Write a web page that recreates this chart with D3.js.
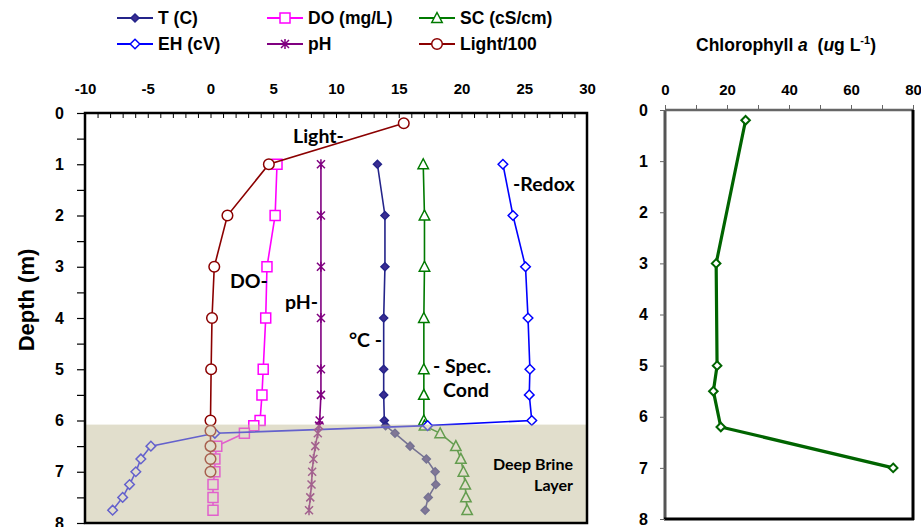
<!DOCTYPE html>
<html><head><meta charset="utf-8">
<script src="https://cdn.jsdelivr.net/npm/d3@7"></script>
<style>
body{margin:0;background:#fff;}
svg{display:block;}
.ax text{font-family:"Liberation Sans",Arial,sans-serif;font-weight:bold;fill:#000;}
.lg{font-family:"Liberation Sans",Arial,sans-serif;font-weight:bold;fill:#000;}
.note{font-family:Lato,"Open Sans",sans-serif;font-weight:700;fill:#000;}
</style></head><body>
<svg id="c" width="921" height="527"></svg>
<script>
// Water column profile, depths in metres
const profileDepth = [1, 2, 3, 4, 5, 5.5, 6, 6.1, 6.25, 6.5, 6.75, 7, 7.25, 7.5, 7.75];
const tempC    = [13.3, 13.9, 13.9, 13.8, 13.8, 13.8, 13.85, 13.95, 14.7, 15.9, 17.2, 17.9, 17.95, 17.35, 17.1];
const doMgL    = [5.3, 5.15, 4.5, 4.4, 4.2, 4.1, 3.95, 3.45, 2.7, 0.5, 0.35, 0.35, 0.2, 0.2, 0.2];
const specCond = [16.95, 17.05, 17.05, 17.0, 17.0, 17.0, 17.0, 17.05, 18.3, 19.55, 19.95, 20.15, 20.3, 20.35, 20.45];
const ehCv     = [23.3, 24.1, 25.1, 25.3, 25.45, 25.4, 25.6, 17.3, 0.35, -4.75, -5.55, -5.95, -6.45, -7.0, -7.8];
const pHval    = [8.8, 8.8, 8.8, 8.8, 8.8, 8.8, 8.7, 8.65, 8.55, 8.35, 8.2, 8.1, 8.05, 7.95, 7.85];
const lightDepth = [0.2, 1, 2, 3, 4, 5, 6, 6.2, 6.5, 6.75, 7];
const light100   = [15.4, 4.65, 1.35, 0.3, 0.12, 0.05, 0, 0, 0, 0, 0];
// Chlorophyll a profile
const chlDepth = [0.2, 3, 5, 5.5, 6.2, 7];
const chlA     = [26, 16.5, 16.8, 15.6, 18, 73.6];
// Axis ticks
const profileTicks = [-10, -5, 0, 5, 10, 15, 20, 25, 30];
const depthTicks = [0, 1, 2, 3, 4, 5, 6, 7, 8];
const chlTicks = [0, 20, 40, 60, 80];
const brineTop = 6.08;

const svg = d3.select("#c");

const x = d3.scaleLinear().domain([-10, 30]).range([85, 587]);
const y = d3.scaleLinear().domain([0, 8]).range([113, 523]);
const xc = d3.scaleLinear().domain([0, 80]).range([665, 913]);
const yc = d3.scaleLinear().domain([0, 8]).range([110, 519]);

// marker shapes centred at 0,0
const shapes = {
  diamond: r => `M0,${-r}L${r},0L0,${r}L${-r},0Z`,
  square: r => `M${-r},${-r}H${r}V${r}H${-r}Z`,
  triangle: r => `M0,${-r}L${r*0.95},${r*0.8}L${-r*0.95},${r*0.8}Z`,
  circle: r => `M${r},0A${r},${r} 0 1,1 ${-r},0A${r},${r} 0 1,1 ${r},0Z`,
  asterisk: r => `M0,${-r}V${r}M${-r*0.8},${-r*0.8}L${r*0.8},${r*0.8}M${r*0.8},${-r*0.8}L${-r*0.8},${r*0.8}`
};

const series = [
  {name: "T (C)", depth: profileDepth, vals: tempC, line: "#24248a", stroke: "#24248a", fill: "#3b2d92", shape: "diamond", r: 4},
  {name: "DO (mg/L)", depth: profileDepth, vals: doMgL, line: "#ff00ff", stroke: "#ff00ff", fill: "#fff", shape: "square", r: 5},
  {name: "SC (cS/cm)", depth: profileDepth, vals: specCond, line: "#007a00", stroke: "#007a00", fill: "#fff", shape: "triangle", r: 5.5},
  {name: "EH (cV)", depth: profileDepth, vals: ehCv, line: "#0000ff", stroke: "#0000ff", fill: "#fff", shape: "diamond", r: 4.8},
  {name: "pH", depth: profileDepth, vals: pHval, line: "#800080", stroke: "#800080", fill: "none", shape: "asterisk", r: 5},
  {name: "Light/100", depth: lightDepth, vals: light100, line: "#8b0000", stroke: "#8b0000", fill: "#fff", shape: "circle", r: 5.3}
];

// ---- left panel: profiles ----
svg.append("rect").attr("x", 85).attr("y", 113).attr("width", 502).attr("height", 410).attr("fill", "#fff");

const plot = svg.append("g");
series.forEach(s => {
  const pts = s.depth.map((d, i) => [s.vals[i], d]);
  plot.append("path")
    .attr("d", d3.line().x(p => x(p[0])).y(p => y(p[1]))(pts))
    .attr("fill", "none").attr("stroke", s.line).attr("stroke-width", 1.6);
  plot.selectAll(null).data(pts).join("path")
    .attr("transform", p => `translate(${x(p[0])},${y(p[1])})`)
    .attr("d", shapes[s.shape](s.r))
    .attr("fill", s.fill).attr("stroke", s.stroke).attr("stroke-width", 1.5);
});

// deep brine layer shading
svg.append("rect")
  .attr("x", 85).attr("y", y(brineTop))
  .attr("width", 502).attr("height", y(8) - y(brineTop))
  .attr("fill", "rgb(196,190,155)").attr("fill-opacity", 0.51);

svg.append("text").attr("class", "note").attr("x", 573).attr("y", 470)
  .attr("text-anchor", "end").style("font-size", "16px").text("Deep Brine");
svg.append("text").attr("class", "note").attr("x", 573).attr("y", 491)
  .attr("text-anchor", "end").style("font-size", "16px").text("Layer");

// in-plot labels
const notes = [
  {t: "Light-", x: 293, y: 143},
  {t: "-Redox", x: 513, y: 191},
  {t: "DO-", x: 230, y: 288},
  {t: "pH-", x: 285, y: 309},
  {t: "°C -", x: 349, y: 347},
  {t: "- Spec.", x: 433, y: 373},
  {t: "Cond", x: 443, y: 397}
];
notes.forEach(n => svg.append("text").attr("class", "note").attr("x", n.x).attr("y", n.y)
  .style("font-size", "19.5px").text(n.t));

// frame
svg.append("rect").attr("x", 85).attr("y", 113).attr("width", 502).attr("height", 410)
  .attr("fill", "none").attr("stroke", "#000").attr("stroke-width", 2.5);

// top axis (inward ticks every unit)
const topAx = svg.append("g").attr("class", "ax").attr("transform", "translate(0,113)")
  .call(d3.axisTop(x).tickValues(d3.range(-10, 31, 1)).tickSize(-5).tickPadding(19)
    .tickFormat(d => profileTicks.includes(d) ? d : ""));
topAx.select(".domain").remove();
topAx.selectAll("line").attr("stroke", "#000");
topAx.selectAll("text").style("font-size", "15px");

// depth axis
const leftAx = svg.append("g").attr("class", "ax").attr("transform", "translate(85,0)")
  .call(d3.axisLeft(y).tickValues(d3.range(0, 8.01, 0.5)).tickSize(8).tickPadding(13)
    .tickFormat(d => depthTicks.includes(d) ? d : ""));
leftAx.select(".domain").remove();
leftAx.selectAll("line").attr("stroke", "#000").attr("stroke-width", 1.2);
leftAx.selectAll("text").style("font-size", "16px");

svg.append("text").attr("class", "lg")
  .attr("transform", "translate(34,300) rotate(-90)")
  .attr("text-anchor", "middle").style("font-size", "22px").text("Depth (m)");

// legend
const legCols = [117, 267, 419];
series.forEach((s, i) => {
  const col = i % 3, row = Math.floor(i / 3);
  const lx = legCols[col], ly = row === 0 ? 18 : 44;
  const g = svg.append("g");
  g.append("line").attr("x1", lx).attr("x2", lx + 36).attr("y1", ly).attr("y2", ly)
    .attr("stroke", s.line).attr("stroke-width", 2);
  g.append("path").attr("transform", `translate(${lx + 18},${ly})`)
    .attr("d", shapes[s.shape](s.r)).attr("fill", s.fill).attr("stroke", s.stroke).attr("stroke-width", 1.5);
  g.append("text").attr("class", "lg").attr("x", lx + 41).attr("y", ly + 6)
    .style("font-size", "17.5px").text(s.name);
});

// ---- right panel: chlorophyll a ----
svg.append("path")
  .attr("d", d3.line().x((d, i) => xc(chlA[i])).y(d => yc(d))(chlDepth))
  .attr("fill", "none").attr("stroke", "#006400").attr("stroke-width", 3.2);
svg.selectAll(null).data(chlDepth).join("path")
  .attr("transform", (d, i) => `translate(${xc(chlA[i])},${yc(d)})`)
  .attr("d", shapes.diamond(4.3))
  .attr("fill", "#fff").attr("stroke", "#006400").attr("stroke-width", 2);

// frame: grey left/top, black right/bottom
svg.append("line").attr("x1", 665).attr("x2", 665).attr("y1", 110).attr("y2", 519).attr("stroke", "#555").attr("stroke-width", 3);
svg.append("line").attr("x1", 665).attr("x2", 913).attr("y1", 110).attr("y2", 110).attr("stroke", "#666").attr("stroke-width", 2.5);
svg.append("line").attr("x1", 913).attr("x2", 913).attr("y1", 110).attr("y2", 520).attr("stroke", "#000").attr("stroke-width", 3);
svg.append("line").attr("x1", 664).attr("x2", 914).attr("y1", 519).attr("y2", 519).attr("stroke", "#000").attr("stroke-width", 3);

const cTop = svg.append("g").attr("class", "ax").attr("transform", "translate(0,110)")
  .call(d3.axisTop(xc).tickValues(d3.range(0, 81, 10)).tickSize(5).tickPadding(10)
    .tickFormat(d => chlTicks.includes(d) ? d : ""));
cTop.select(".domain").remove();
cTop.selectAll("line").attr("stroke", "#666");
cTop.selectAll("text").style("font-size", "15px");

const cLeft = svg.append("g").attr("class", "ax").attr("transform", "translate(665,0)")
  .call(d3.axisLeft(yc).tickValues(depthTicks).tickSize(5).tickPadding(12));
cLeft.select(".domain").remove();
cLeft.selectAll("line").attr("stroke", "#666");
cLeft.selectAll("text").style("font-size", "16px");

const title = svg.append("text").attr("class", "lg").attr("x", 786).attr("y", 51)
  .attr("text-anchor", "middle").style("font-size", "17.5px").attr("xml:space", "preserve");
title.append("tspan").text("Chlorophyll ");
title.append("tspan").attr("font-style", "italic").text("a");
title.append("tspan").text("  (");
title.append("tspan").attr("font-style", "italic").text("u");
title.append("tspan").text("g L");
title.append("tspan").style("font-size", "11px").attr("dy", -7).text("-1");
title.append("tspan").attr("dy", 7).text(")");
</script>
</body></html>
